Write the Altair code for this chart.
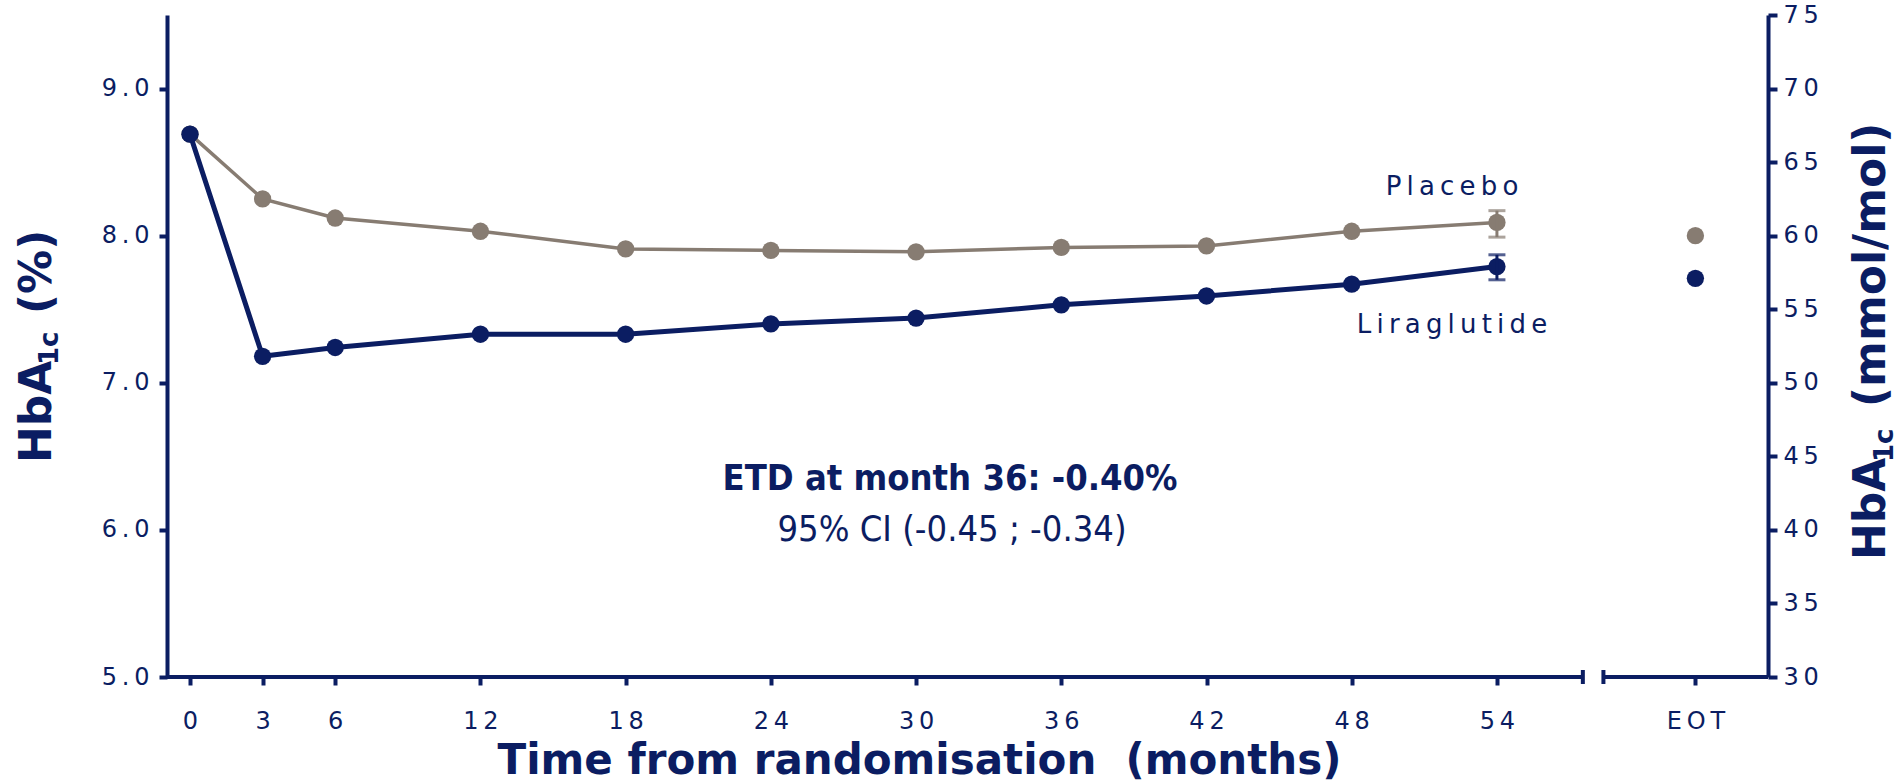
import altair as alt
import pandas as pd

NAVY = "#0B1D62"
GREY = "#877C72"
SANS = "DejaVu Sans"
NARROW = "DejaVu Sans Condensed, DejaVu Sans"
THIN = "\u2009"

# HbA1c (%) by visit
months = [0, 3, 6, 12, 18, 24, 30, 36, 42, 48, 54]
liraglutide = [8.69, 7.18, 7.24, 7.33, 7.33, 7.40, 7.44, 7.53, 7.59, 7.67, 7.79]
placebo = [8.69, 8.25, 8.12, 8.03, 7.91, 7.90, 7.89, 7.92, 7.93, 8.03, 8.09]

# spread at month 54 (low, high)
lira_err = [7.70, 7.87]
placebo_err = [7.99, 8.17]

# end of treatment
eot_lira = 7.71
eot_placebo = 8.00

pct_ticks = [5, 6, 7, 8, 9]
mmol_ticks = [30, 35, 40, 45, 50, 55, 60, 65, 70, 75]

# x layout (months): broken axis with a separate EOT slot
X_DOMAIN = [-0.95, 65.2]
EOT_X = 62.2
BREAK_LEFT = 57.55
BREAK_RIGHT = 58.4

W, H = 1601, 662
PAD = {"left": 167, "top": 15, "right": 130, "bottom": 105}

# letter-spaced tick labels
spaced = "replace(datum.label, regexp('(.)(?=.)', 'g'), '$1" + THIN + "')"

pct_scale = alt.Scale(domain=[5, 9.5], nice=False, zero=False)
pct_axis = alt.Axis(
    values=pct_ticks, format=".1f", labelExpr=spaced, grid=False, title=None,
    domainColor=NAVY, domainWidth=4, tickColor=NAVY, tickWidth=4, tickSize=8,
    labelColor=NAVY, labelFont=SANS, labelFontSize=24, labelPadding=10,
    labelFlush=False, labelOverlap=False,
)
x_scale = alt.Scale(domain=X_DOMAIN, nice=False, zero=False)
x_axis = alt.Axis(
    values=months + [EOT_X], domain=False, grid=False,
    tickColor=NAVY, tickWidth=4, tickSize=8,
    labelColor=NAVY, labelFont=SANS, labelFontSize=24, labelPadding=24,
    labelFlush=False, labelOverlap=False,
    labelExpr="datum.value > 60 ? 'E" + THIN + "O" + THIN + "T' : " + spaced,
    title="Time from randomisation\u00a0 (months)", titleFont=SANS, titleFontSize=42,
    titleFontWeight="bold", titleColor=NAVY, titleBaseline="alphabetic",
    titleAlign="center", titleX=752, titleY=96,
)


def X(field):
    return alt.X(f"{field}:Q", scale=x_scale, axis=x_axis)


def Y(field):
    return alt.Y(f"{field}:Q", scale=pct_scale, axis=pct_axis)


pla_df = pd.DataFrame({"month": months, "value": placebo})
lir_df = pd.DataFrame({"month": months, "value": liraglutide})


def series(df, color, width):
    line = alt.Chart(df).mark_line(color=color, strokeWidth=width).encode(x=X("month"), y=Y("value"))
    dots = alt.Chart(df).mark_circle(color=color, size=300, opacity=1).encode(x=X("month"), y=Y("value"))
    return line, dots


def errbar(err, color):
    last = months[-1]
    bar = alt.Chart(pd.DataFrame({"month": [last], "low": [err[0]], "high": [err[1]]})).mark_rule(
        color=color, strokeWidth=3).encode(x=X("month"), y=Y("low"), y2="high:Q")
    caps = alt.Chart(pd.DataFrame({"month": [last, last], "value": err})).mark_tick(
        orient="horizontal", color=color, size=17, thickness=3).encode(x=X("month"), y=Y("value"))
    return bar, caps


pla_line, pla_dots = series(pla_df, GREY, 3.5)
lir_line, lir_dots = series(lir_df, NAVY, 5)
pla_bar, pla_caps = errbar(placebo_err, GREY)
lir_bar, lir_caps = errbar(lira_err, NAVY)

eot_df = pd.DataFrame({"month": [EOT_X, EOT_X], "value": [eot_placebo, eot_lira],
                       "arm": ["Placebo", "Liraglutide"]})
eot_dots = alt.Chart(eot_df).mark_circle(size=300, opacity=1).encode(
    x=X("month"), y=Y("value"),
    color=alt.Color("arm:N", scale=alt.Scale(domain=["Placebo", "Liraglutide"], range=[GREY, NAVY]), legend=None),
)

# bottom axis line in two pieces with end caps at the break
seg_df = pd.DataFrame({"start": [X_DOMAIN[0], BREAK_RIGHT], "end": [BREAK_LEFT, X_DOMAIN[1]]})
segments = alt.Chart(seg_df).mark_rule(color=NAVY, strokeWidth=4).encode(
    x=X("start"), x2="end:Q", y=alt.value(H))
cap_df = pd.DataFrame({"start": [BREAK_LEFT, BREAK_RIGHT]})
break_caps = alt.Chart(cap_df).mark_rule(color=NAVY, strokeWidth=4).encode(
    x=X("start"), y=alt.value(H - 7), y2=alt.value(H + 7))


def label(text, px, py, size, weight="normal", angle=0, align="center", font=SANS):
    return alt.Chart(pd.DataFrame({"t": [text]})).mark_text(
        align=align, baseline="alphabetic", angle=angle, fontSize=size,
        fontWeight=weight, font=font, color=NAVY,
    ).encode(x=alt.value(px - PAD["left"]), y=alt.value(py - PAD["top"]), text="t:N")


texts = [
    label(THIN.join("Placebo"), 1452, 195, 26),
    label(THIN.join("Liraglutide"), 1452, 333, 26),
    label("ETD at month 36: -0.40%", 950, 490, 36, weight="bold", font=NARROW),
    label("95% CI (-0.45 ; -0.34)", 952, 541, 36, font=NARROW),
    # left axis title
    label("HbA", 51, 463, 44, weight="bold", angle=270, align="left"),
    label("1c", 58, 365, 26, weight="bold", angle=270, align="left"),
    label("(%)", 51, 314, 44, weight="bold", angle=270, align="left"),
    # right axis title
    label("HbA", 1885, 560, 44, weight="bold", angle=270, align="left"),
    label("1c", 1893, 462, 26, weight="bold", angle=270, align="left"),
    label("(mmol/mol)", 1885, 407, 44, weight="bold", angle=270, align="left"),
]

main = alt.layer(
    pla_line, pla_dots, pla_bar, pla_caps,
    lir_line, lir_dots, lir_bar, lir_caps,
    eot_dots, segments, break_caps, *texts,
)

mmol_axis = alt.Axis(
    orient="right", values=mmol_ticks, grid=False, title=None, labelExpr=spaced,
    domainColor=NAVY, domainWidth=4, tickColor=NAVY, tickWidth=4, tickSize=9,
    labelColor=NAVY, labelFont=SANS, labelFontSize=24, labelPadding=6,
    labelFlush=False, labelOverlap=False,
)
right_scale = alt.Chart(pd.DataFrame({"mmol": mmol_ticks})).mark_point(opacity=0).encode(
    y=alt.Y("mmol:Q", scale=alt.Scale(domain=[30, 75], nice=False, zero=False), axis=mmol_axis)
)

chart = (
    alt.layer(main, right_scale)
    .resolve_scale(y="independent")
    .properties(width=W, height=H, padding=PAD, autosize="none", background="white")
    .configure_view(stroke=None)
)

chart.save("out.html", embed_options={"renderer": "svg", "actions": False})
